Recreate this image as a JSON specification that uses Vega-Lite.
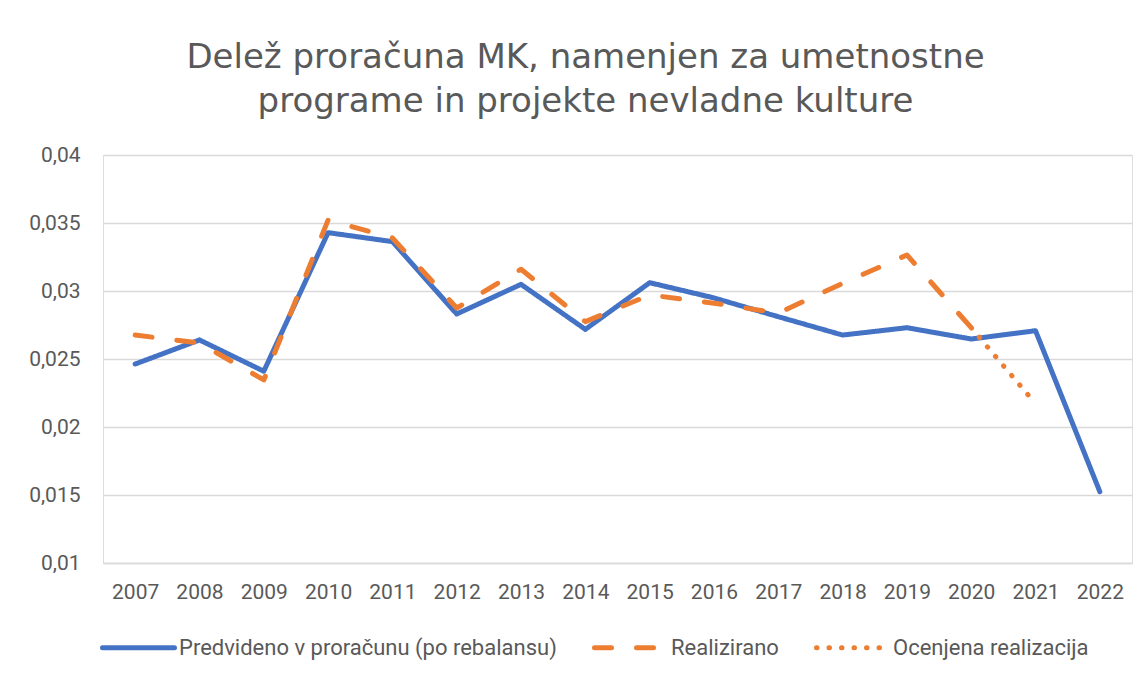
{
  "$schema": "https://vega.github.io/schema/vega-lite/v6.json",
  "width": 1029,
  "height": 408,
  "autosize": "none",
  "padding": {"left": 103, "top": 155, "right": 14, "bottom": 114},
  "background": "white",
  "title": {
    "text": ["Delež proračuna MK, namenjen za umetnostne", "programe in projekte nevladne kulture"],
    "font": "DejaVu Sans",
    "fontSize": 34,
    "fontWeight": "normal",
    "color": "#595959",
    "lineHeight": 44,
    "anchor": "middle",
    "dx": -32,
    "offset": 25
  },
  "data": {
    "values": [
      {"year": "2007", "series": "Predvideno v proračunu (po rebalansu)", "value": 0.02463},
      {"year": "2008", "series": "Predvideno v proračunu (po rebalansu)", "value": 0.0264},
      {"year": "2009", "series": "Predvideno v proračunu (po rebalansu)", "value": 0.0241},
      {"year": "2010", "series": "Predvideno v proračunu (po rebalansu)", "value": 0.03429},
      {"year": "2011", "series": "Predvideno v proračunu (po rebalansu)", "value": 0.03363},
      {"year": "2012", "series": "Predvideno v proračunu (po rebalansu)", "value": 0.02831},
      {"year": "2013", "series": "Predvideno v proračunu (po rebalansu)", "value": 0.03049},
      {"year": "2014", "series": "Predvideno v proračunu (po rebalansu)", "value": 0.02718},
      {"year": "2015", "series": "Predvideno v proračunu (po rebalansu)", "value": 0.03061},
      {"year": "2016", "series": "Predvideno v proračunu (po rebalansu)", "value": 0.02949},
      {"year": "2017", "series": "Predvideno v proračunu (po rebalansu)", "value": 0.02811},
      {"year": "2018", "series": "Predvideno v proračunu (po rebalansu)", "value": 0.02676},
      {"year": "2019", "series": "Predvideno v proračunu (po rebalansu)", "value": 0.0273},
      {"year": "2020", "series": "Predvideno v proračunu (po rebalansu)", "value": 0.02647},
      {"year": "2021", "series": "Predvideno v proračunu (po rebalansu)", "value": 0.02708},
      {"year": "2022", "series": "Predvideno v proračunu (po rebalansu)", "value": 0.01524},
      {"year": "2007", "series": "Realizirano", "value": 0.02676},
      {"year": "2008", "series": "Realizirano", "value": 0.02618},
      {"year": "2009", "series": "Realizirano", "value": 0.02346},
      {"year": "2010", "series": "Realizirano", "value": 0.03522},
      {"year": "2011", "series": "Realizirano", "value": 0.0339},
      {"year": "2012", "series": "Realizirano", "value": 0.02875},
      {"year": "2013", "series": "Realizirano", "value": 0.0316},
      {"year": "2014", "series": "Realizirano", "value": 0.02775},
      {"year": "2015", "series": "Realizirano", "value": 0.02971},
      {"year": "2016", "series": "Realizirano", "value": 0.0291},
      {"year": "2017", "series": "Realizirano", "value": 0.02838},
      {"year": "2018", "series": "Realizirano", "value": 0.03056},
      {"year": "2019", "series": "Realizirano", "value": 0.03265},
      {"year": "2020", "series": "Realizirano", "value": 0.0273},
      {"year": "2020", "series": "Ocenjena realizacija", "value": 0.0273},
      {"year": "2021", "series": "Ocenjena realizacija", "value": 0.02171}
    ]
  },
  "mark": {"type": "line", "strokeWidth": 5, "strokeCap": "round", "strokeJoin": "round"},
  "encoding": {
    "x": {
      "field": "year",
      "type": "ordinal",
      "scale": {"type": "point", "padding": 0.5},
      "axis": {
        "title": null,
        "labelAngle": 0,
        "labelFont": "Roboto",
        "labelFontSize": 21,
        "labelColor": "#595959",
        "labelPadding": 18,
        "ticks": false,
        "domain": true,
        "domainColor": "#D9D9D9",
        "domainWidth": 1.3,
        "grid": false
      }
    },
    "y": {
      "field": "value",
      "type": "quantitative",
      "scale": {"domain": [0.01, 0.04], "nice": false, "zero": false},
      "axis": {
        "title": null,
        "values": [0.01, 0.015, 0.02, 0.025, 0.03, 0.035, 0.04],
        "labelExpr": "replace(format(datum.value, '.3~f'), '.', ',')",
        "labelFont": "Roboto",
        "labelFontSize": 21,
        "labelColor": "#595959",
        "labelPadding": 23,
        "ticks": false,
        "domain": false,
        "grid": true,
        "gridColor": "#D9D9D9",
        "gridWidth": 1.3
      }
    },
    "color": {
      "field": "series",
      "type": "nominal",
      "scale": {
        "domain": ["Predvideno v proračunu (po rebalansu)", "Realizirano", "Ocenjena realizacija"],
        "range": ["#4472C4", "#ED7D31", "#ED7D31"]
      },
      "legend": {
        "title": null,
        "orient": "none",
        "direction": "horizontal",
        "columns": 3,
        "legendX": -3,
        "legendY": 454,
        "symbolType": "stroke",
        "symbolSize": 5184,
        "symbolStrokeWidth": 5,
        "labelFont": "Roboto",
        "labelFontSize": 22,
        "labelColor": "#595959",
        "labelOffset": 2,
        "columnPadding": 27,
        "labelLimit": 600,
        "encode": {"symbols": {"update": {"strokeCap": {"value": "round"}}}}
      }
    },
    "strokeDash": {
      "field": "series",
      "type": "nominal",
      "scale": {
        "domain": ["Predvideno v proračunu (po rebalansu)", "Realizirano", "Ocenjena realizacija"],
        "range": [[1, 0], [17, 25], [0.5, 12]]
      },
      "legend": null
    }
  }
}
